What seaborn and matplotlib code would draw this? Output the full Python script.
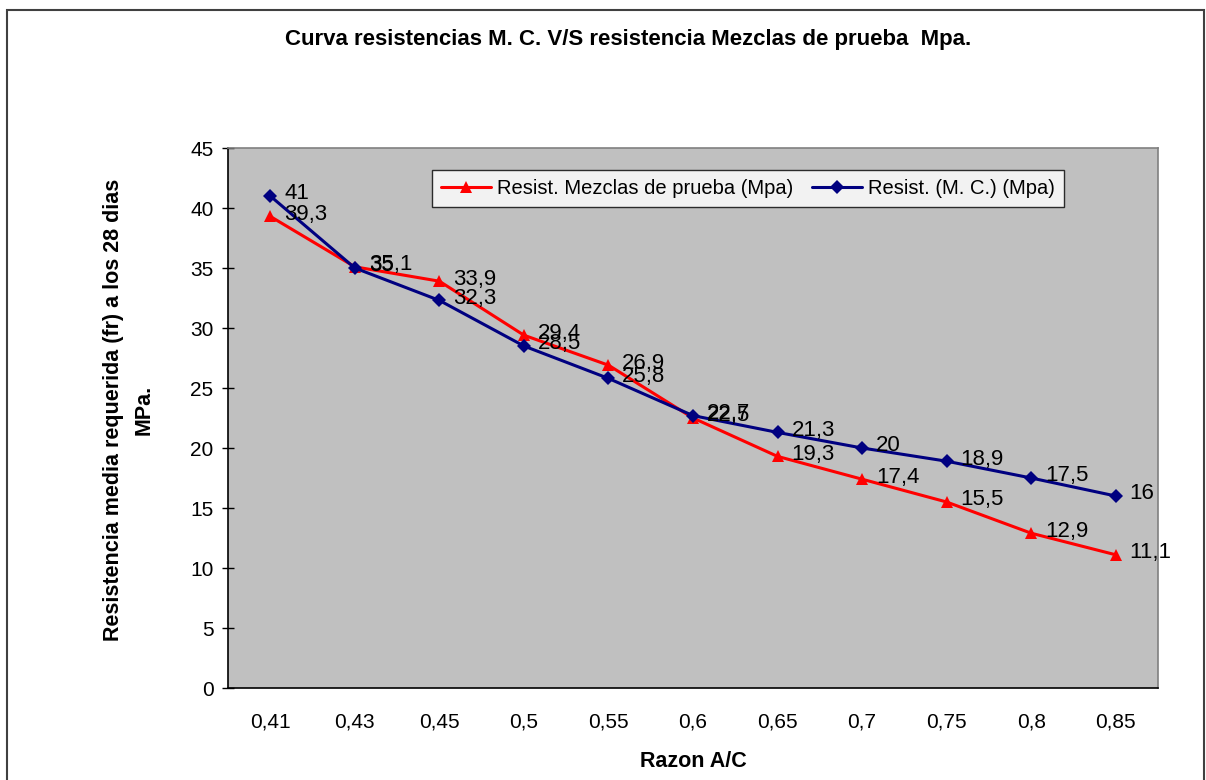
import matplotlib
matplotlib.use("Agg")
import matplotlib.pyplot as plt
import seaborn as sns
import pandas as pd
from matplotlib.patches import Rectangle

categories = ["0,41", "0,43", "0,45", "0,5", "0,55", "0,6", "0,65", "0,7", "0,75", "0,8", "0,85"]
mezclas = [39.3, 35.1, 33.9, 29.4, 26.9, 22.5, 19.3, 17.4, 15.5, 12.9, 11.1]
mc = [41, 35, 32.3, 28.5, 25.8, 22.7, 21.3, 20, 18.9, 17.5, 16]
y_ticks = [0, 5, 10, 15, 20, 25, 30, 35, 40, 45]

name_red = "Resist. Mezclas de prueba (Mpa)"
name_blue = "Resist. (M. C.) (Mpa)"

df = pd.DataFrame({
    "x": categories * 2,
    "y": mezclas + mc,
    "serie": [name_red] * len(categories) + [name_blue] * len(categories),
})

sns.set_style("white")
plt.rcParams["font.family"] = ["Liberation Sans", "DejaVu Sans"]
plt.rcParams["text.color"] = "black"
plt.rcParams["axes.labelcolor"] = "black"
plt.rcParams["xtick.color"] = "black"
plt.rcParams["ytick.color"] = "black"

fig = plt.figure(figsize=(12.06, 7.8), dpi=100)
ax = fig.add_axes([228 / 1206, 1 - 688 / 780, 930 / 1206, 540 / 780])
ax.set_facecolor("#C0C0C0")

palette = {name_red: "#FF0000", name_blue: "#000080"}
sns.lineplot(data=df, x="x", y="y", hue="serie", style="serie",
             markers={name_red: "^", name_blue: "D"}, dashes=False,
             palette=palette, linewidth=2.2, markersize=9, markeredgewidth=0,
             ax=ax, sort=False)
for line in ax.lines:
    if line.get_marker() == "D":
        line.set_markersize(7)

def fmt(v):
    return ("%g" % v).replace(".", ",")

for i, (a, b) in enumerate(zip(mezclas, mc)):
    ax.annotate(fmt(a), (i, a), xytext=(10, 1.5), textcoords="offset points",
                fontsize=16, va="center", ha="left", color="black")
    ax.annotate(fmt(b), (i, b), xytext=(10, 1.5), textcoords="offset points",
                fontsize=16, va="center", ha="left", color="black")

ax.set_xlim(-0.5, len(categories) - 0.5)
ax.set_ylim(0, 45)
ax.set_yticks(y_ticks)
ax.set_yticklabels([str(t) for t in y_ticks], fontsize=15)
ax.set_xticks(range(len(categories)))
ax.set_xticklabels(categories, fontsize=15)
ax.set_xticks([i - 0.5 for i in range(len(categories) + 1)], minor=True)
ax.tick_params(axis="x", which="major", length=0, pad=18)
ax.tick_params(axis="x", which="minor", length=9, direction="inout", width=1, color="black")
ax.tick_params(axis="y", which="major", length=9, direction="inout", width=1, color="black", left=True, pad=6)

for s in ["left", "bottom"]:
    ax.spines[s].set_color("black")
    ax.spines[s].set_linewidth(1.2)
for s in ["top", "right"]:
    ax.spines[s].set_visible(True)
    ax.spines[s].set_color("#808080")
    ax.spines[s].set_linewidth(1.2)

ax.set_xlabel("Razon A/C", fontsize=15.5, fontweight="bold")
ax.xaxis.set_label_coords(0.5, (688 - 751) / 540)
ax.xaxis.label.set_va("top")
ax.set_ylabel("Resistencia media requerida (fr) a los 28 dias\nMPa.", fontsize=15.5,
              fontweight="bold", linespacing=1.6)
ax.yaxis.set_label_coords((155 - 228) / 930, (688 - 410) / 540)

leg = ax.legend(loc="upper left", bbox_to_anchor=((432 - 228) / 930, (688 - 170) / 540),
                ncol=2, frameon=True, fancybox=False, edgecolor="black", fontsize=14.5,
                borderaxespad=0, handlelength=2.5, columnspacing=0.9, handletextpad=0.3,
                borderpad=0.45, title=None)
leg.get_frame().set_linewidth(1.0)
leg.get_frame().set_facecolor("white")

fig.text(628 / 1206, 1 - 40 / 780, "Curva resistencias M. C. V/S resistencia Mezclas de prueba  Mpa.",
         ha="center", va="center", fontsize=16, fontweight="bold")

fig.patches.append(Rectangle((7 / 1206, -0.05), (1204 - 7) / 1206, 1.05 - 10 / 780,
                             transform=fig.transFigure, fill=False, edgecolor="#404040",
                             linewidth=1.5))

fig.savefig("out.png", dpi=100)
